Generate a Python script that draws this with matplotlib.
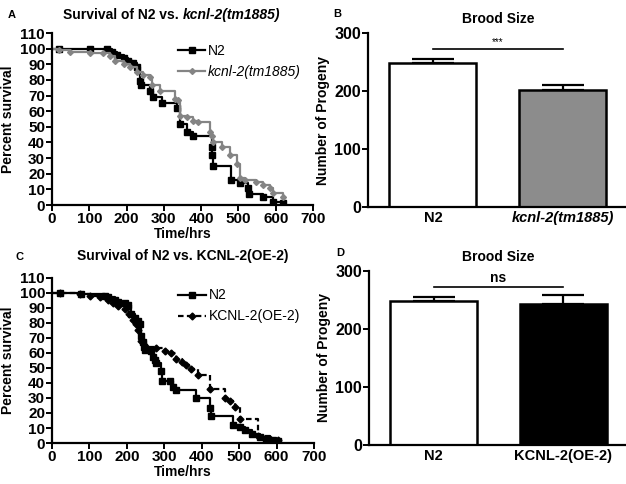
import matplotlib
matplotlib.use("Agg")
import matplotlib.pyplot as plt

plt.rcParams['font.family'] = ['Liberation Sans', 'DejaVu Sans']

# ---- Panel A data ----
a_n2_t = [0, 18, 102, 147, 160, 174, 192, 205, 218, 227, 236, 238, 263, 272, 294, 334, 343, 361, 379, 428, 430, 432, 480, 504, 526, 528, 566, 593, 620]
a_n2_s = [100, 100, 100, 100, 98, 96, 94, 92, 91, 88, 79, 77, 73, 69, 65, 62, 52, 47, 44, 37, 32, 25, 16, 14, 11, 7, 5, 2, 1]
a_ko_t = [0, 18, 49, 102, 138, 156, 169, 192, 209, 227, 245, 263, 268, 290, 330, 338, 343, 361, 379, 392, 424, 428, 433, 455, 477, 495, 505, 517, 548, 566, 584, 593, 620]
a_ko_s = [100, 99, 98, 97, 97, 95, 92, 90, 88, 85, 83, 82, 77, 73, 68, 67, 57, 56, 54, 53, 47, 44, 40, 37, 32, 26, 17, 16, 15, 13, 11, 8, 5]

# ---- Panel C data ----
c_n2_t = [0, 20, 78, 141, 150, 167, 176, 194, 203, 212, 221, 230, 234, 239, 242, 245, 249, 265, 270, 274, 279, 292, 294, 314, 323, 332, 386, 421, 424, 484, 501, 515, 533, 555, 573, 590, 604]
c_n2_s = [100, 100, 99, 98, 97, 95, 94, 93, 92, 86, 83, 81, 79, 71, 67, 64, 62, 61, 57, 55, 53, 48, 41, 41, 37, 35, 30, 23, 18, 12, 11, 9, 6, 4, 3, 2, 1.5]
c_oe_t = [0, 20, 74, 101, 127, 150, 163, 176, 194, 207, 216, 225, 230, 239, 252, 279, 301, 319, 332, 346, 359, 372, 390, 421, 461, 475, 488, 502, 550, 582, 604]
c_oe_s = [100, 100, 99, 98, 97, 95, 93, 91, 89, 86, 82, 79, 75, 68, 64, 63, 61, 60, 56, 54, 52, 49, 45, 36, 30, 28, 24, 16, 5, 3, 2]

# ---- Bar data ----
b_labels = ["N2", "kcnl-2(tm1885)"]
b_means = [248, 202]
b_errs = [7, 8]
d_labels = ["N2", "KCNL-2(OE-2)"]
d_means = [248, 243]
d_errs = [7, 15]

GRAY = '#848484'
fig = plt.figure(figsize=(6.26, 4.84), dpi=100)

def style(ax, size=11):
    for s in ['top', 'right']:
        ax.spines[s].set_visible(False)
    for s in ['left', 'bottom']:
        ax.spines[s].set_linewidth(1.6)
    ax.tick_params(width=1.4, length=4, labelsize=size, pad=1)
    for lab in ax.get_xticklabels() + ax.get_yticklabels():
        lab.set_fontweight('bold')

def survival(ax, t1, s1, t2, s2, lab1, lab2, c2, ls2, m2, ms2, italic2):
    ax.step(t1, s1, where='post', color='black', lw=1.6)
    ax.plot(t1[1:], s1[1:], ls='none', marker='s', color='black', ms=5)
    ax.step(t2, s2, where='post', color=c2, lw=1.6, ls=ls2)
    ax.plot(t2[1:], s2[1:], ls='none', marker=m2, color=c2, ms=ms2)
    ax.set_xlim(0, 700)
    ax.set_ylim(0, 110)
    ax.set_xticks(range(0, 701, 100))
    ax.set_yticks(range(0, 111, 10))
    ax.set_xlabel('Time/hrs', fontsize=10, fontweight='bold', labelpad=1)
    ax.set_ylabel('Percent survival', fontsize=10, fontweight='bold', labelpad=3)
    h1, = ax.plot([], [], color='black', lw=1.6, marker='s', ms=5)
    h2, = ax.plot([], [], color=c2, lw=1.6, ls=ls2, marker=m2, ms=ms2)
    leg = ax.legend([h1, h2], [lab1, lab2], loc='upper left', bbox_to_anchor=(0.46, 0.97),
                    frameon=False, fontsize=10, handlelength=2.0, handletextpad=0.2,
                    labelspacing=0.5, borderaxespad=0)
    if italic2:
        leg.get_texts()[1].set_fontstyle('italic')
    style(ax)

def bars(ax, labels, means, errs, colors, sig, sigsize, sigweight):
    x = list(range(len(means)))
    ax.bar(x, means, width=0.67, color=colors, edgecolor='black', linewidth=1.8, zorder=2)
    ax.errorbar(x, means, yerr=[[0] * len(errs), errs], fmt='none', ecolor='black',
                elinewidth=1.6, capsize=15, capthick=1.6, zorder=1)
    ax.set_xlim(-0.5, 1.5)
    ax.set_ylim(0, 300)
    ax.set_yticks([0, 100, 200, 300])
    ax.set_xticks(x)
    ax.set_xticklabels(labels)
    ax.set_ylabel('Number of Progeny', fontsize=10, fontweight='bold', labelpad=3)
    ax.plot([0, 1], [272, 272], color='black', lw=1.2, clip_on=False)
    ax.text(0.5, 276, sig, ha='center', va='bottom', fontsize=sigsize, fontweight=sigweight)
    ax.set_title('Brood Size', fontsize=10, fontweight='bold', pad=7)
    style(ax, 11.5)
    ax.tick_params(axis='x', length=0, labelsize=10.5, pad=3)

axA = fig.add_axes([0.0831, 0.5764, 0.417, 0.3554])
survival(axA, a_n2_t, a_n2_s, a_ko_t, a_ko_s, 'N2', 'kcnl-2(tm1885)', GRAY, '-', 'D', 3, True)
t1 = fig.text(0.101, 0.961, 'Survival of N2 vs. ', fontsize=10, fontweight='bold', va='baseline')
fig.canvas.draw()
axA.annotate('kcnl-2(tm1885)', xy=(1, 0), xycoords=t1, fontsize=10, fontweight='bold',
             fontstyle='italic', va='bottom', annotation_clip=False)

axC = fig.add_axes([0.0831, 0.0847, 0.4185, 0.341])
survival(axC, c_n2_t, c_n2_s, c_oe_t, c_oe_s, 'N2', 'KCNL-2(OE-2)', 'black', (0, (2.5, 1.5)), 'D', 3.5, False)
axC.set_title('Survival of N2 vs. KCNL-2(OE-2)', fontsize=10, fontweight='bold', pad=13)

axB = fig.add_axes([0.5879, 0.5723, 0.415, 0.3595])
bars(axB, b_labels, b_means, b_errs, ['white', '#8c8c8c'], '***', 7, 'normal')
axB.get_xticklabels()[1].set_fontstyle('italic')

axD = fig.add_axes([0.5895, 0.0806, 0.414, 0.3595])
bars(axD, d_labels, d_means, d_errs, ['white', 'black'], 'ns', 10, 'bold')

for letter, x, y in [('A', 0.012, 0.968), ('B', 0.533, 0.972), ('C', 0.025, 0.469), ('D', 0.537, 0.477)]:
    fig.text(x, y, letter, fontsize=8, fontweight='bold', va='center')

fig.savefig('out.png', dpi=100)
